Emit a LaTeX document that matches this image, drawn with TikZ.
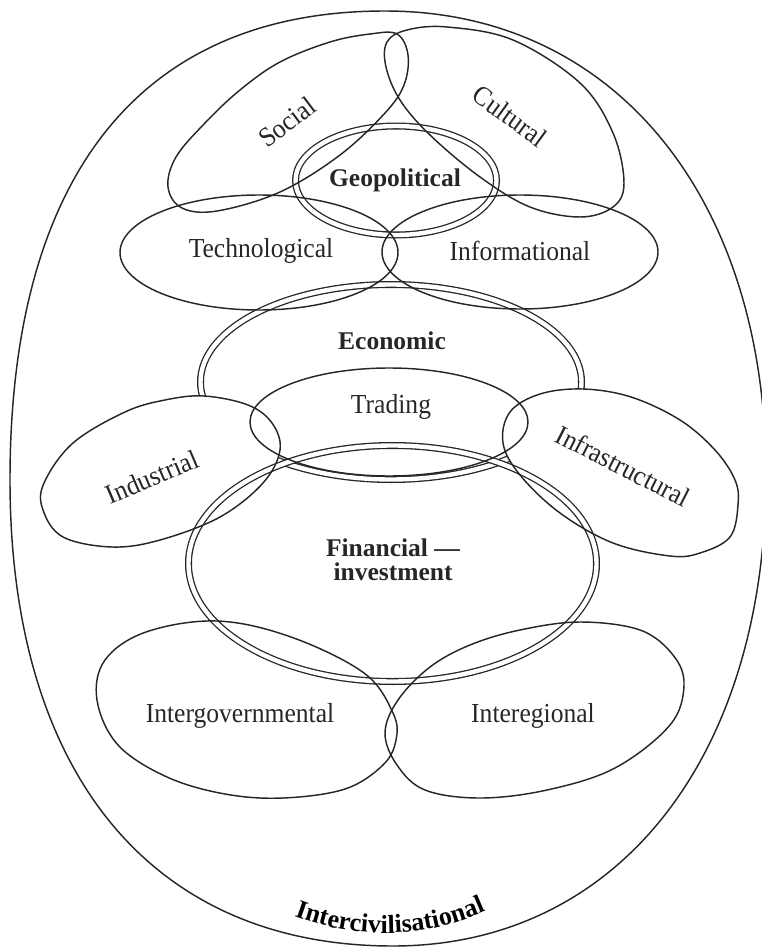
\documentclass[tikz,border=0pt]{standalone}
\usepackage{fontspec}
\setmainfont{Liberation Serif}
\newfontfamily\condfont[FakeStretch=0.93]{Liberation Serif}
\usetikzlibrary{decorations.text}
\begin{document}
\begin{tikzpicture}[x=1pt,y=-1pt, line width=1.45pt, line join=round, color={black!85},
  lbl/.style={font=\condfont\fontsize{27.5}{30}\selectfont, inner sep=0pt},
  blbl/.style={font=\fontsize{25.5}{23.5}\selectfont\bfseries, inner sep=0pt, align=center},
  dbl/.style={double=white, double distance=4.4pt, line width=1.3pt}]
\useasboundingbox (0,0) rectangle (761,947);
% outer egg (Intercivilisational)
\draw (385,11) .. controls (614,11) and (766,197) .. (766,475)
  .. controls (766,758) and (617,946) .. (393,946)
  .. controls (152,946) and (10,774) .. (10,480)
  .. controls (10,175) and (141,11) .. (385,11) -- cycle;
% Economic (double)
\draw[dbl] (391,382) ellipse [x radius=190.5pt, y radius=97.5pt];
% white fills hiding Economic
\fill[white] plot[smooth cycle, tension=0.6] coordinates {(204,396) (248,405) (272,423) (280,450) (263,483) (220,517) (160,540) (112,547) (63,537) (43,510) (44,483) (73,443) (125,412) (165,400)};
\fill[white] plot[smooth cycle, tension=0.6] coordinates {(583,389) (631,397) (680,420) (715,450) (735,480) (738,505) (730,537) (700,553) (670,556) (613,543) (560,513) (520,475) (503,443) (510,412) (540,394)};
% Geopolitical and Financial (double)
\draw[dbl] (396,180.5) ellipse [x radius=100.5pt, y radius=54.5pt];
\draw[dbl] (392.5,563.5) ellipse [x radius=204pt, y radius=118pt];
% Social
\draw plot[smooth cycle, tension=0.6] coordinates {(397,34) (408,55) (404,85) (385,113) (340,155) (280,192) (217,211) (182,208) (168,187) (176,157) (205,123) (240,90) (280,62) (330,42) (370,34)};
% Cultural
\draw plot[smooth cycle, tension=0.6] coordinates {(407,30) (447,27) (513,40) (580,83) (613,133) (624,183) (613,207) (580,217) (530,207) (480,177) (430,135) (400,100) (386,67) (387,42)};
% Technological, Informational
\draw (259,252.5) ellipse [x radius=139pt, y radius=57.5pt];
\draw (520,252) ellipse [x radius=138pt, y radius=57pt];
% Trading
\draw (389,422) ellipse [x radius=139pt, y radius=54pt];
% Industrial
\draw plot[smooth cycle, tension=0.6] coordinates {(204,396) (248,405) (272,423) (280,450) (263,483) (220,517) (160,540) (112,547) (63,537) (43,510) (44,483) (73,443) (125,412) (165,400)};
% Infrastructural
\draw plot[smooth cycle, tension=0.6] coordinates {(583,389) (631,397) (680,420) (715,450) (735,480) (738,505) (730,537) (700,553) (670,556) (613,543) (560,513) (520,475) (503,443) (510,412) (540,394)};
% Intergovernmental
\draw plot[smooth cycle, tension=0.6] coordinates {(217,621) (291,637) (364,673) (393,713) (396,740) (383,765) (345,789) (283,798) (225,794) (167,777) (118,745) (97,700) (105,660) (146,632)};
% Interegional
\draw plot[smooth cycle, tension=0.6] coordinates {(580,622) (640,630) (673,655) (684,685) (670,725) (615,768) (547,790) (480,798) (425,790) (397,765) (385,733) (398,700) (430,667) (470,645) (520,630)};
% labels
\node[lbl, rotate=37] (social) at (287,122) {Social};
\node[lbl, rotate=-36] (cultural) at (510,116) {Cultural};
\node[blbl] (geo) at (395,180) {Geopolitical};
\node[lbl] (tech) at (261,251) {Technological};
\node[lbl] (info) at (520,251) {Informational};
\node[blbl] (eco) at (392,341) {Economic};
\node[lbl] (trading) at (391,407) {Trading};
\node[lbl, rotate=23] (industrial) at (152,477) {Industrial};
\node[lbl, rotate=-27] (infra) at (623,466) {Infrastructural};
\node[blbl] (fin) at (393,560) {Financial ---\\investment};
\node[lbl] (intergov) at (240,716) {Intergovernmental};
\node[lbl] (interreg) at (533,716) {Interegional};
\path[decorate, decoration={text along path, text align=center,
  text={|\fontsize{26}{26}\selectfont\bfseries|Intercivilisational}}]
  (283,912) .. controls (355,941) and (425,941) .. (497,906);
\end{tikzpicture}
\end{document}
